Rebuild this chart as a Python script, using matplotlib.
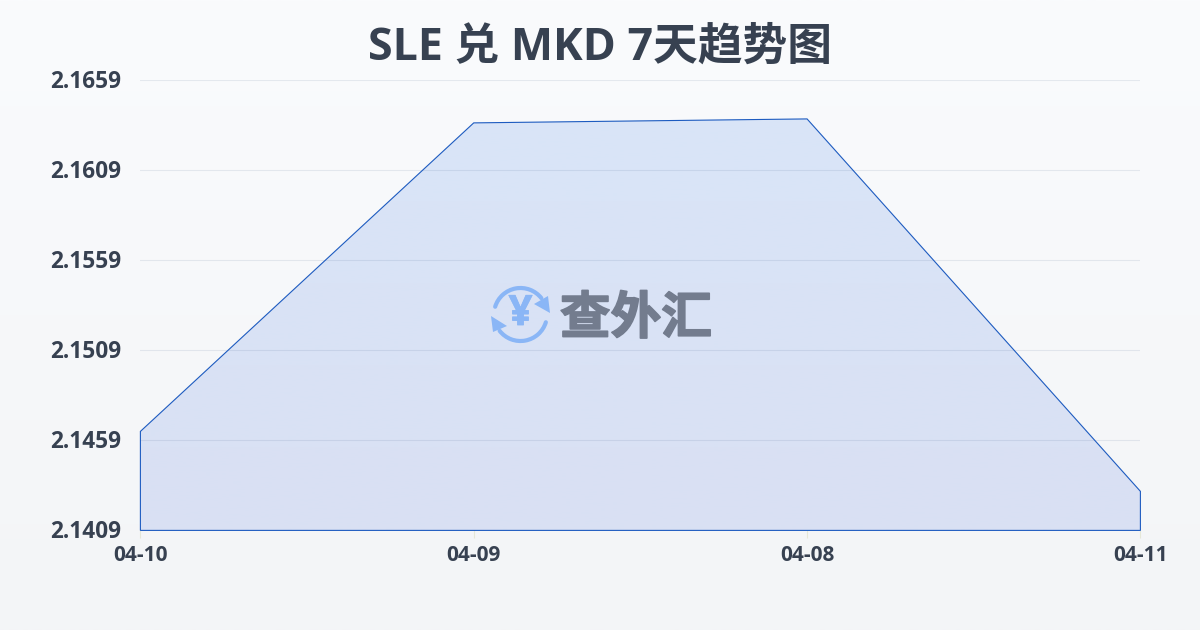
import numpy as np
import matplotlib
matplotlib.use('Agg')
import matplotlib.pyplot as plt
from matplotlib.colors import LinearSegmentedColormap
from matplotlib.patches import Arc, Polygon
from matplotlib.transforms import ScaledTranslation
import matplotlib.patheffects as pe

plt.rcParams['font.family'] = ['Noto Sans CJK SC', 'DejaVu Sans']

# values
dates = ['04-10', '04-09', '04-08', '04-11']
rates = [2.14640, 2.16354, 2.16376, 2.14307]
y_ticks = [2.1409, 2.1459, 2.1509, 2.1559, 2.1609, 2.1659]
title = 'SLE 兑 MKD 7天趋势图'
logo_text = '查外汇'

text_color = '#374151'
line_color = '#1d5bc0'
logo_blue = '#8ab6f6'
logo_gray = '#737c8e'
latin_cjk = ['Open Sans', 'Noto Sans CJK SC']

fig = plt.figure(figsize=(12, 6.3), dpi=100)

# page background
bg = fig.add_axes([0, 0, 1, 1], zorder=0)
bg_cmap = LinearSegmentedColormap.from_list('bg', ['#fafbfd', '#f3f5f7'])
bg.imshow(np.linspace(0, 1, 256).reshape(-1, 1), aspect='auto', cmap=bg_cmap)
bg.axis('off')

ax = fig.add_axes([140.4 / 1200, 99.6 / 630, 1000 / 1200, 450 / 630], zorder=1)
ax.patch.set_alpha(0)
x = np.arange(len(dates))

# area with a faint vertical gradient
fill_cmap = LinearSegmentedColormap.from_list('fill', ['#d9e5f8', '#d9e0f3'])
grad = ax.imshow(np.linspace(0, 1, 256).reshape(-1, 1), aspect='auto', cmap=fill_cmap,
                 extent=[x[0], x[-1], y_ticks[0], max(rates)], zorder=1, origin='upper')
outline = Polygon(list(zip(x, rates)) + [(x[-1], y_ticks[0]), (x[0], y_ticks[0])], closed=True,
                  facecolor='none', edgecolor=line_color, linewidth=0.8, zorder=3, clip_on=False)
ax.add_patch(outline)
grad.set_clip_path(outline)
ax.set_xlim(x[0], x[-1])
ax.set_ylim(y_ticks[0], y_ticks[-1])

ax.set_yticks(y_ticks)
ax.set_yticklabels([f'{v:.4f}' for v in y_ticks], fontsize=16.3, fontweight='bold',
                   color=text_color, family=latin_cjk)
ax.set_xticks(x)
ax.set_xticklabels(dates, fontsize=15, fontweight='bold', color=text_color, family=latin_cjk)
ax.tick_params(axis='y', length=0, pad=13.5)
ax.tick_params(axis='x', length=6, width=0.8, color='#e5e7d8', pad=4.5)
ax.grid(axis='y', color='#2f4a7a', alpha=0.10, linewidth=0.8, zorder=2)
ax.set_axisbelow(False)
for s in ax.spines.values():
    s.set_visible(False)

# y labels sit a little above their gridlines
nudge = ScaledTranslation(0, 1.5 / 100, fig.dpi_scale_trans)
for label in ax.get_yticklabels():
    label.set_transform(label.get_transform() + nudge)

fig.text(600 / 1200, 1 - 48 / 630, title, ha='center', va='center', fontsize=32.2,
         fontweight='bold', color=text_color, family=latin_cjk)

# watermark logo, drawn in pixel coordinates
logo = fig.add_axes([0, 0, 1, 1], zorder=2)
logo.set_xlim(0, 1200)
logo.set_ylim(630, 0)
logo.axis('off')
logo.patch.set_alpha(0)
cx, cy = 520.5, 314.5
# y axis is inverted, so angles run clockwise on screen
logo.add_patch(Arc((cx, cy), 53, 53, theta1=17, theta2=142, color=logo_blue, lw=3, capstyle='round'))
logo.add_patch(Arc((cx, cy), 53, 53, theta1=197, theta2=322, color=logo_blue, lw=3, capstyle='round'))
logo.add_patch(Polygon([(548, 296), (550, 313), (534, 304)], closed=True, color=logo_blue, lw=0))
logo.add_patch(Polygon([(491, 316), (493, 332), (507, 326)], closed=True, color=logo_blue, lw=0))
yen = logo.text(cx, cy, '¥', ha='center', va='center', fontsize=30, fontweight='bold', color=logo_blue,
                family=latin_cjk)
yen.set_path_effects([pe.withStroke(linewidth=0.6, foreground=logo_blue)])
mark = logo.text(636, 319, logo_text, ha='center', va='center', fontsize=36.5, fontweight='bold', color=logo_gray)
mark.set_path_effects([pe.withStroke(linewidth=1.2, foreground=logo_gray)])

fig.savefig('out.png', dpi=100)
